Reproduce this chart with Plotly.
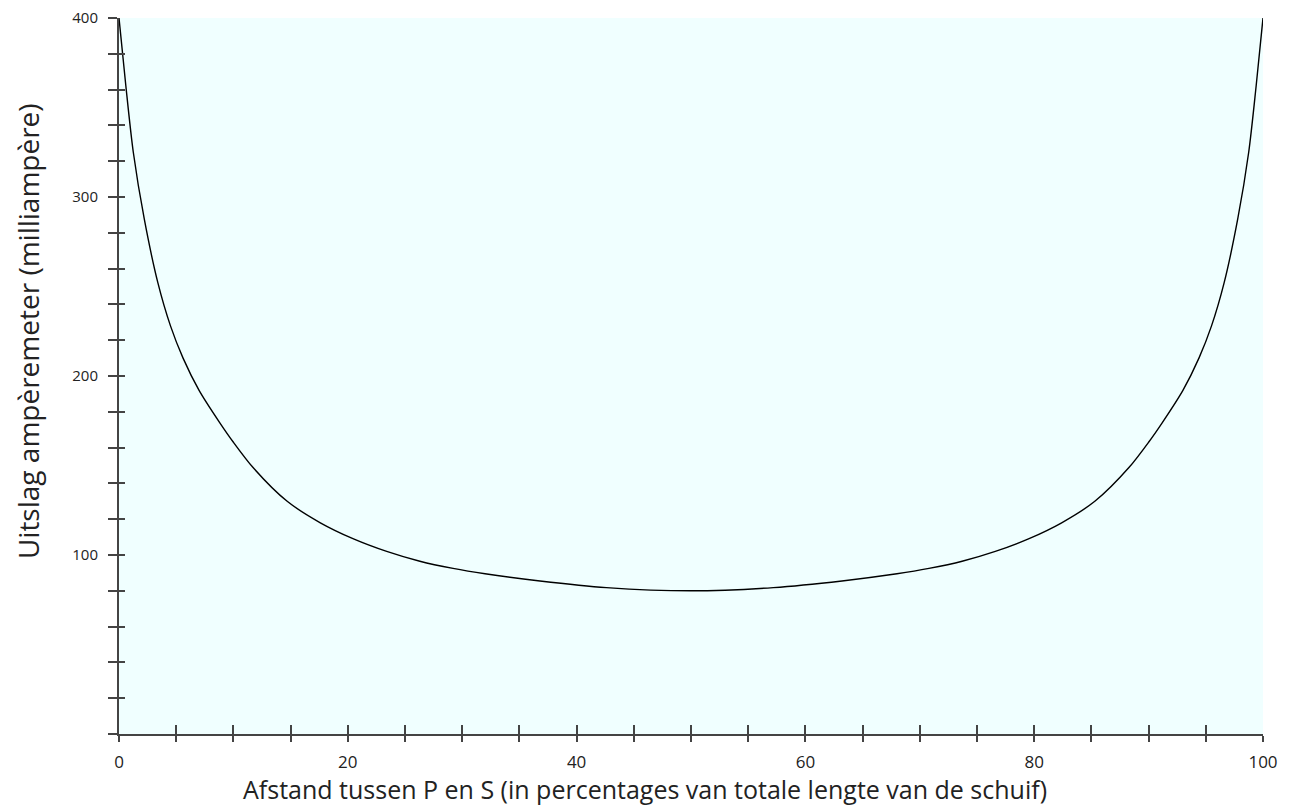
import plotly.graph_objects as go

# Values
afstand = [0, 0.6, 1.25, 2.2, 3.4, 4.5, 5.6, 7, 8.8, 10, 11.7, 14.7, 17.6, 20.5, 23.4,
           26.3, 29.2, 32, 36.8, 42.6, 50, 57.2, 63.2, 68, 70.8, 73.7, 76.6, 79.5,
           82.4, 85.3, 88.3, 90, 91.2, 93, 94.4, 95.5, 96.6, 97.8, 98.75, 99.4, 100]
stroom = [400, 362, 325, 288, 252, 228, 210, 192, 174, 163, 149, 130, 118, 109, 102,
          96.5, 92.5, 89.5, 85.5, 81.8, 80, 81.8, 85.5, 89.5, 92.5, 96.5, 102, 109,
          118, 130, 149, 163, 174, 192, 210, 228, 252, 288, 325, 362, 400]

x_labels = [0, 20, 40, 60, 80, 100]
x_minor = list(range(0, 101, 5))
y_labels = [100, 200, 300, 400]
y_minor = list(range(0, 401, 20))

x_title = "Afstand tussen P en S (in percentages van totale lengte van de schuif)"
y_title = "Uitslag ampèremeter (milliampère)"

axis_col = "#444444"
font = "Open Sans, Noto Sans, sans-serif"

fig = go.Figure()
fig.add_trace(go.Scatter(x=afstand, y=stroom, mode="lines",
                         line=dict(color="black", width=1.4, shape="spline", smoothing=0.8),
                         hoverinfo="skip", showlegend=False, cliponaxis=False))
fig.add_trace(go.Scatter(x=[None], y=[None], xaxis="x2", yaxis="y2",
                         showlegend=False, hoverinfo="skip"))

fig.update_layout(
    width=1284, height=799,
    margin=dict(l=111, r=29, t=10, b=73, autoexpand=False),
    paper_bgcolor="white",
    plot_bgcolor="#F0FFFF",
    font=dict(family=font, color="#222222"),
    xaxis=dict(range=[0, 100], tickmode="array", tickvals=x_labels,
               ticktext=[str(v) for v in x_labels], automargin=False,
               ticks="outside", ticklen=6, tickwidth=2, tickcolor=axis_col,
               minor=dict(tickmode="array", tickvals=x_minor, ticks="outside",
                          ticklen=6, tickwidth=2, tickcolor=axis_col, showgrid=False),
               showline=True, linecolor=axis_col, linewidth=2, showgrid=False,
               zeroline=False, tickfont=dict(size=17, color="#222222"),
               ticklabelstandoff=6, ticklabeloverflow="allow"),
    yaxis=dict(range=[0, 400], tickmode="array", tickvals=y_labels,
               ticktext=[str(v) for v in y_labels], automargin=False,
               ticks="outside", ticklen=9, tickwidth=2, tickcolor=axis_col,
               minor=dict(tickmode="array", tickvals=y_minor, ticks="outside",
                          ticklen=9, tickwidth=2, tickcolor=axis_col, showgrid=False),
               showline=True, linecolor=axis_col, linewidth=2, showgrid=False,
               zeroline=False, tickfont=dict(size=15, color="#222222"),
               ticklabelstandoff=7, ticklabeloverflow="allow"),
    xaxis2=dict(range=[0, 100], overlaying="x", anchor="y2", side="bottom",
                tickmode="array", tickvals=x_minor, showticklabels=False,
                ticks="inside", ticklen=9, tickwidth=2, tickcolor=axis_col,
                showline=False, showgrid=False, zeroline=False, automargin=False),
    yaxis2=dict(range=[0, 400], overlaying="y", anchor="x2", side="left",
                tickmode="array", tickvals=y_minor, showticklabels=False,
                ticks="inside", ticklen=6, tickwidth=2, tickcolor=axis_col,
                showline=False, showgrid=False, zeroline=False, automargin=False),
    annotations=[
        dict(text=x_title, xref="paper", yref="paper", x=0.4598, y=-0.0775,
             xanchor="center", yanchor="middle", showarrow=False,
             font=dict(size=25, color="#222222")),
        dict(text=y_title, xref="paper", yref="paper", x=-0.0795, y=0.5628,
             xanchor="center", yanchor="middle", showarrow=False, textangle=-90,
             font=dict(size=28, color="#222222")),
    ],
)

fig.write_html("out.html")
